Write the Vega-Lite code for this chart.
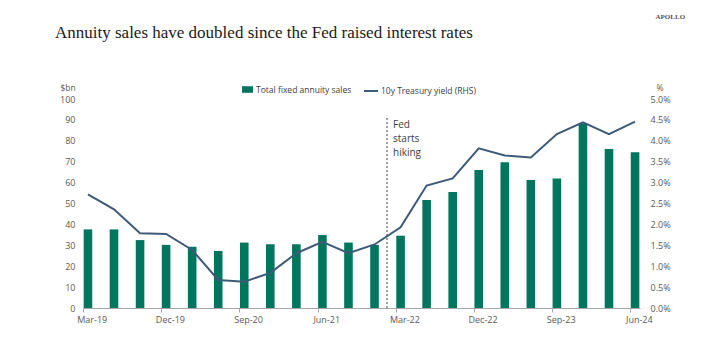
{
  "$schema": "https://vega.github.io/schema/vega-lite/v6.json",
  "width": 557,
  "height": 209,
  "autosize": "none",
  "padding": {"left": 83, "top": 99, "right": 73, "bottom": 38},
  "background": "white",
  "config": {"view": {"stroke": null}, "font": "Open Sans"},
  "title": {
    "text": "Annuity sales have doubled since the Fed raised interest rates",
    "anchor": "start",
    "frame": "group",
    "dx": -28,
    "font": "Liberation Serif",
    "fontSize": 17,
    "fontWeight": "normal",
    "color": "#1a1a1a",
    "baseline": "alphabetic",
    "offset": -42
  },
  "data": {
    "values": [
      {"q": "Mar-19", "sales": 37.6, "yield": 2.72},
      {"q": "Jun-19", "sales": 37.6, "yield": 2.36},
      {"q": "Sep-19", "sales": 32.5, "yield": 1.79},
      {"q": "Dec-19", "sales": 30.2, "yield": 1.77},
      {"q": "Mar-20", "sales": 29.3, "yield": 1.39},
      {"q": "Jun-20", "sales": 27.3, "yield": 0.67},
      {"q": "Sep-20", "sales": 31.3, "yield": 0.63},
      {"q": "Dec-20", "sales": 30.5, "yield": 0.84},
      {"q": "Mar-21", "sales": 30.5, "yield": 1.31},
      {"q": "Jun-21", "sales": 34.9, "yield": 1.58},
      {"q": "Sep-21", "sales": 31.3, "yield": 1.31},
      {"q": "Dec-21", "sales": 30.2, "yield": 1.52},
      {"q": "Mar-22", "sales": 34.6, "yield": 1.93},
      {"q": "Jun-22", "sales": 51.7, "yield": 2.93},
      {"q": "Sep-22", "sales": 55.5, "yield": 3.1},
      {"q": "Dec-22", "sales": 66.0, "yield": 3.82},
      {"q": "Mar-23", "sales": 69.7, "yield": 3.65},
      {"q": "Jun-23", "sales": 61.2, "yield": 3.6},
      {"q": "Sep-23", "sales": 62.0, "yield": 4.16},
      {"q": "Dec-23", "sales": 88.4, "yield": 4.44},
      {"q": "Mar-24", "sales": 76.1, "yield": 4.16},
      {"q": "Jun-24", "sales": 74.5, "yield": 4.46}
    ]
  },
  "layer": [
    {
      "mark": {"type": "bar"},
      "encoding": {
        "x": {
          "field": "q", "type": "nominal", "sort": null,
          "scale": {"paddingInner": 0.67, "paddingOuter": 0.025},
          "axis": {
            "title": null,
            "values": ["Mar-19", "Dec-19", "Sep-20", "Jun-21", "Mar-22", "Dec-22", "Sep-23", "Jun-24"],
            "bandPosition": 0,
            "labelOffset": 4.3,
            "labelAngle": 0,
            "labelFontSize": 9,
            "labelColor": "#595959",
            "labelPadding": 3,
            "tickSize": 4,
            "tickColor": "#A6A6A6",
            "domainColor": "#A6A6A6",
            "grid": false
          }
        },
        "y": {
          "field": "sales", "type": "quantitative",
          "scale": {"domain": [0, 100]},
          "axis": {
            "orient": "left",
            "values": [0, 10, 20, 30, 40, 50, 60, 70, 80, 90, 100],
            "grid": false, "domain": false, "ticks": false,
            "labelFontSize": 9, "labelColor": "#595959", "labelPadding": 8,
            "title": "$bn", "titleAngle": 0, "titleAlign": "left", "titleBaseline": "middle",
            "titleX": -23, "titleY": -12, "titleFontSize": 8.5, "titleFontWeight": "normal", "titleColor": "#595959"
          }
        },
        "fill": {
          "datum": "Total fixed annuity sales", "type": "nominal",
          "scale": {"range": ["#00765F"]},
          "legend": {
            "title": null, "orient": "none", "legendX": 158, "legendY": -16,
            "padding": 0, "symbolType": "M-1,-0.6H1V0.6H-1Z", "symbolSize": 121,
            "labelOffset": 2, "labelFontSize": 8.5, "labelColor": "#404040"
          }
        }
      }
    },
    {
      "mark": {"type": "line", "strokeWidth": 2},
      "encoding": {
        "x": {"field": "q", "type": "nominal", "sort": null},
        "y": {
          "field": "yield", "type": "quantitative",
          "scale": {"domain": [0, 5]},
          "axis": {
            "orient": "right",
            "values": [0, 0.5, 1, 1.5, 2, 2.5, 3, 3.5, 4, 4.5, 5],
            "labelExpr": "format(datum.value, '.1f') + '%'",
            "grid": false, "domain": false, "ticks": false,
            "labelFontSize": 9, "labelColor": "#595959", "labelPadding": 10,
            "title": "%", "titleAngle": 0, "titleAlign": "left", "titleBaseline": "middle",
            "titleX": 16, "titleY": -12, "titleFontSize": 8.5, "titleFontWeight": "normal", "titleColor": "#595959"
          }
        },
        "stroke": {
          "datum": "10y Treasury yield (RHS)", "type": "nominal",
          "scale": {"range": ["#3D5A78"]},
          "legend": {
            "title": null, "orient": "none", "legendX": 280, "legendY": -16,
            "padding": 0, "symbolType": "stroke", "symbolSize": 196, "symbolStrokeWidth": 2,
            "labelOffset": 2, "labelFontSize": 8.5, "labelColor": "#404040"
          }
        }
      }
    },
    {
      "data": {"values": [{"note": "Fed starts hiking"}]},
      "mark": {"type": "rule", "strokeDash": [2, 2], "strokeWidth": 1, "stroke": "#404040"},
      "encoding": {
        "x": {"datum": "Dec-21", "type": "nominal", "bandPosition": 1.95},
        "y": {"datum": 0, "type": "quantitative", "scale": {"domain": [0, 100]}, "axis": null},
        "y2": {"datum": 92}
      }
    },
    {
      "data": {"values": [{"note": "Fed starts hiking"}]},
      "mark": {"type": "text", "align": "left", "baseline": "top", "fontSize": 10, "lineHeight": 14, "fill": "#404040", "fontWeight": "normal", "lineBreak": "\n"},
      "encoding": {
        "x": {"datum": "Dec-21", "type": "nominal", "bandPosition": 2.65},
        "y": {"datum": 90, "type": "quantitative", "scale": {"domain": [0, 100]}, "axis": null},
        "text": {"value": "Fed\nstarts\nhiking"}
      }
    },
    {
      "data": {"values": [{"note": "logo"}]},
      "mark": {"type": "text", "align": "center", "baseline": "middle", "fontSize": 7, "font": "Liberation Serif", "fontWeight": "bold", "fill": "#555555", "clip": false},
      "encoding": {
        "x": {"datum": "Jun-24", "type": "nominal", "bandPosition": 4.6},
        "y": {"datum": 139, "type": "quantitative", "scale": {"domain": [0, 100]}, "axis": null},
        "text": {"value": "APOLLO"}
      }
    }
  ],
  "resolve": {"scale": {"y": "independent", "fill": "independent", "stroke": "independent"}}
}
